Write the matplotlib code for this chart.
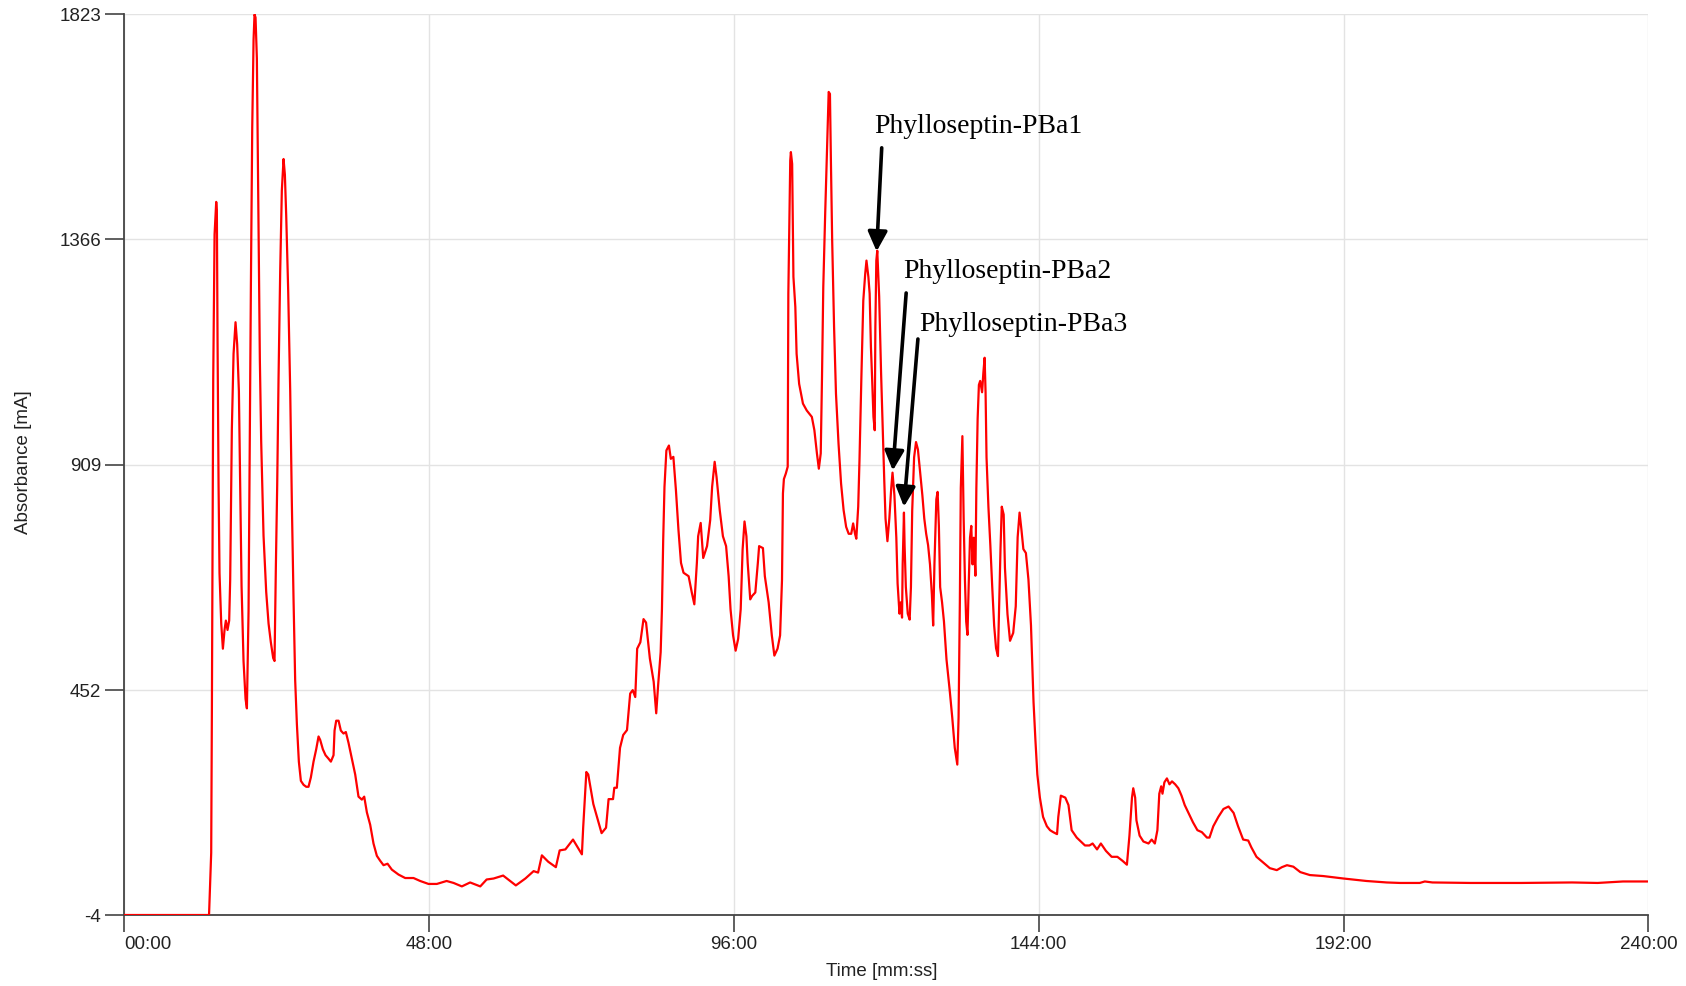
import matplotlib
matplotlib.use('Agg')
import matplotlib.pyplot as plt
import numpy as np

# chromatogram trace: time in minutes, absorbance in mA
time_min = [
    0, 13.4, 13.74, 13.85, 13.95, 14.06, 14.27, 14.53, 14.63, 14.74, 14.90, 15.05, 15.32, 15.58,
    15.84, 16.05, 16.31, 16.57, 16.73, 16.99, 17.26, 17.57, 17.83, 18.10, 18.31, 18.52, 18.83,
    19.15, 19.36, 19.62, 19.78, 19.99, 20.20, 20.41, 20.56, 20.72, 20.93, 21.09, 21.24, 21.40,
    21.61, 21.98, 22.40, 22.77, 23.13, 23.50, 23.71, 23.92, 24.13, 24.34, 24.60, 24.86, 25.13,
    25.34, 25.55, 25.86, 26.18, 26.44, 26.70, 26.96, 27.23, 27.54, 27.86, 28.28, 28.70, 29.06,
    29.43, 29.85, 30.27, 30.64, 30.90, 31.32, 31.74, 32.21, 32.58, 33.00, 33.16, 33.42, 33.79,
    34.15, 34.57, 34.94, 35.36, 35.88, 36.41, 36.93, 37.46, 37.83, 38.25, 38.77, 39.29, 39.82,
    40.34, 40.87, 41.50, 42.18, 43.23, 44.28, 45.59, 46.64, 47.95, 49.26,
    50.8, 51.9, 53.2, 54.5, 56.1, 57.1, 58.2, 59.7, 61.7, 63.2, 64.5, 65.2, 65.8, 66.8, 68.0,
    68.6, 69.5, 70.7, 72.1, 72.3, 72.8, 73.1, 73.9, 75.2, 75.9, 76.3, 77.0, 77.2, 77.6, 78.1,
    78.6, 79.2, 79.7, 80.1, 80.5, 80.8, 81.3, 81.8, 82.2, 82.8, 83.4, 83.8, 84.1, 84.5, 84.7,
    84.9, 85.1, 85.4, 85.8, 86.1, 86.5, 86.9, 87.3, 87.7, 88.1, 88.9, 89.4, 89.8, 90.2, 90.4,
    90.8, 91.2, 91.8, 92.3, 92.6, 93.0, 93.3, 93.8, 94.3, 94.8, 95.2, 95.5, 95.9, 96.3, 96.7,
    97.1, 97.4, 97.7, 98.0, 98.2, 98.6, 98.9, 99.4, 99.8, 100.0, 100.6, 100.9, 101.5, 102.0,
    102.4, 102.9, 103.3, 103.6, 103.75, 103.9, 104.2, 104.5,
    104.6, 104.9, 105.0, 105.2, 105.3, 105.4, 105.7, 105.9, 106.3, 106.9, 107.5, 108.3, 108.7,
    109.1, 109.4, 109.7, 109.9, 110.1, 110.4, 110.8, 110.95, 111.15, 111.3, 111.5, 111.8, 112.1,
    112.5, 112.9, 113.3, 113.7, 114.1, 114.5, 114.8, 115.1, 115.3, 115.6, 115.8, 116.1, 116.4,
    116.7, 116.9, 117.2, 117.4, 117.6, 117.8, 118.0, 118.2, 118.3, 118.45,
    118.6, 118.9, 119.2, 119.5, 119.7, 119.9, 120.2, 120.5, 120.8, 121.0, 121.3, 121.6, 121.8,
    122.1, 122.3, 122.5, 122.6, 122.8, 122.9, 123.1, 123.4, 123.7, 123.9, 124.1, 124.4, 124.7,
    125.0, 125.3, 125.7, 126.0, 126.3, 126.6, 126.9, 127.2, 127.4, 127.6, 127.9, 128.1, 128.3,
    128.5, 128.8, 129.1, 129.5, 130.0, 130.4, 130.8, 131.2, 131.4, 131.6, 131.75, 132.0, 132.2,
    132.4, 132.6, 132.8, 133.0, 133.2, 133.4, 133.6, 133.8, 134.05, 134.2, 134.4, 134.6, 134.8,
    135.1, 135.3, 135.5, 135.65, 135.8, 136.1, 136.4, 136.7, 137.0, 137.3, 137.6, 137.8, 138.0,
    138.2, 138.5, 138.7, 139.1, 139.5, 140.0, 140.4, 140.7, 141.0, 141.3, 141.6, 142.0, 142.4,
    142.8, 143.0, 143.2, 143.5, 143.8, 144.2, 144.7, 145.3, 145.8, 146.3, 146.9, 147.1, 147.5,
    148.2, 148.7, 149.2, 150.0, 151.3, 152.0, 152.5, 153.2, 153.8, 154.6, 155.5, 156.4, 157.2,
    157.9, 158.3, 158.7, 158.9, 159.2, 159.4, 159.9, 160.5, 161.3, 161.8, 162.3, 162.7, 163.0,
    163.3, 163.5, 163.8, 164.2, 164.6, 165.0, 165.5, 166.0, 166.5, 167.0, 167.6, 168.3, 169.0,
    169.7, 170.5, 170.9, 171.5, 172.3, 173.1, 173.9, 174.7, 175.4, 176.2, 177.0, 177.5, 178.3,
    179.4, 180.4, 181.5, 182.3, 183.1, 184.1, 185.2, 186.7, 188.8, 192.0, 195.6, 198.8, 200.9,
    204.0, 204.8, 206.0, 212.0, 220.0, 228.0, 232.0, 236.0, 240.0,
]
absorbance = [
    -4, -4, 122, 415, 740, 1083, 1376, 1442, 1427, 1160, 867, 689, 587, 536,
    574, 593, 574, 593, 676, 981, 1134, 1198, 1153, 1058, 854, 663, 511,
    434, 415, 612, 905, 1274, 1593, 1771, 1822, 1816, 1733, 1529, 1338, 1122,
    956, 765, 651, 587, 549, 517, 511, 702, 867, 1083, 1300, 1465, 1529,
    1497, 1414, 1262, 1058, 829, 638, 472, 383, 307, 268, 260, 256, 256,
    275, 307, 332, 358, 351, 332, 320, 313, 307, 320, 370, 390, 390,
    370, 364, 367, 345, 313, 281, 236, 230, 236, 204, 179, 141, 116,
    106, 97, 100, 88, 78, 71, 71, 65, 59, 59,
    65, 61, 54, 62, 54, 68, 70, 76, 56, 70, 85, 82, 117, 104, 93,
    127, 129, 149, 119, 173, 286, 281, 221, 162, 173, 231, 231, 254, 254, 335,
    361, 371, 445, 452, 438, 536, 549, 596, 589, 516, 469, 405, 462, 529, 616,
    757, 864, 938, 948, 921, 925, 858, 777, 710, 690, 683, 650, 626, 710, 764,
    791, 720, 744, 797, 864, 915, 884, 817, 764, 744, 683, 616, 563, 532, 556,
    616, 737, 794, 764, 710, 636, 643, 650, 710, 744, 740, 683, 630, 563,
    522, 536, 563, 675, 851, 880, 891, 905,
    1256, 1526, 1543, 1519, 1404, 1290, 1229, 1134, 1073, 1033, 1019, 1006, 979,
    932, 901, 932, 1087, 1269, 1418, 1594, 1665, 1661, 1526, 1364, 1188, 1053,
    952, 871, 817, 783, 769, 769, 790, 769, 759, 824, 918, 1087, 1242,
    1296, 1323, 1290, 1256, 1148, 1080, 1006, 979, 1188, 1323,
    1343, 1250, 1095, 963, 878, 800, 754, 800, 862, 893, 847, 761, 668,
    607, 630, 599, 707, 812, 746, 661, 607, 595, 661, 816, 924, 955,
    940, 901, 847, 800, 769, 746, 707, 645, 583, 707, 839, 854, 785,
    661, 630, 591, 514, 452, 397, 335, 301, 397, 630, 862, 967, 800,
    676, 591, 564, 668, 761, 785, 707, 761, 684, 862, 1002, 1071, 1079,
    1056, 1095, 1126, 1056, 924, 823, 746, 661, 583, 537, 521, 630, 738,
    824, 808, 700, 606, 552, 568, 622, 762, 812, 777, 738, 730, 676,
    583, 506, 428, 350, 281, 234, 195, 176, 168, 164, 160, 195, 238,
    234, 219, 168, 153, 137, 137, 141, 129, 141, 126, 114, 114, 106,
    98, 157, 234, 253, 234, 188, 157, 145, 141, 149, 141, 168, 242,
    257, 242, 265, 273, 261, 267, 261, 253, 238, 219, 203, 184, 168,
    164, 153, 153, 176, 195, 211, 216, 203, 176, 149, 147, 133, 114,
    102, 91, 87, 93, 97, 94, 83, 77, 75, 70, 65, 62, 61,
    61, 64, 62, 61, 61, 62, 61, 64, 64,
]

y_ticks = [-4, 452, 909, 1366, 1823]
x_ticks = [0, 48, 96, 144, 192, 240]
x_tick_labels = ['00:00', '48:00', '96:00', '144:00', '192:00', '240:00']

peak_names = ['Phylloseptin-PBa1', 'Phylloseptin-PBa2', 'Phylloseptin-PBa3']
peak_times = [118.5, 121.05, 122.8]

fig = plt.figure(figsize=(16.86, 9.86), dpi=100)
ax = fig.add_axes([0.0735, 0.072, 0.9042, 0.9138])

ax.plot(time_min, absorbance, color='#ff0000', lw=1.6, zorder=3)

ax.set_xlim(0, 240)
ax.set_ylim(-4, 1823)
ax.set_xticks(x_ticks)
ax.set_xticklabels(x_tick_labels)
ax.set_yticks(y_ticks)
ax.set_yticklabels([str(v) for v in y_ticks])
ax.get_xticklabels()[0].set_horizontalalignment('left')

ax.grid(True, color='#e3e3e3', lw=1.0, zorder=0)
for s in ['top', 'right']:
    ax.spines[s].set_visible(False)
for s in ['left', 'bottom']:
    ax.spines[s].set_color('#444444')
    ax.spines[s].set_linewidth(1.3)

ax.tick_params(axis='y', length=13.5, width=1.2, color='#444444', pad=3,
               labelsize=13.5, labelcolor='#222222', labelfontfamily='Liberation Sans')
ax.tick_params(axis='x', length=12, width=1.2, color='#444444', pad=3,
               labelsize=13.5, labelcolor='#222222', labelfontfamily='Liberation Sans')

fig.text(24 / 1686, 0.531, 'Absorbance [mA]', rotation=90, ha='center', va='center',
         fontsize=13.5, color='#222222', family='Liberation Sans')
fig.text(0.523, 0.0145, 'Time [mm:ss]', ha='center', va='center',
         fontsize=13.5, color='#222222', family='Liberation Sans')

# arrows point at the peaks, labels sit above and to the right
arrow_from = [(0.8, 210), (2.1, 360), (2.2, 340)]
label_at = [(-0.4, 240), (1.65, 390), (2.4, 356)]
for name, t, (dx, dy), (lx, ly) in zip(peak_names, peak_times, arrow_from, label_at):
    tip_v = np.interp(t, time_min, absorbance) + 12
    ax.annotate('', xy=(t, tip_v), xytext=(t + dx, tip_v + dy),
                arrowprops=dict(arrowstyle='-|>,head_length=0.85,head_width=0.42',
                                mutation_scale=14, lw=2.6, color='black',
                                shrinkA=0, shrinkB=0), zorder=5)
    ax.text(t + lx, tip_v + ly, name, fontsize=20, family='Liberation Serif',
            ha='left', va='baseline', color='black', zorder=5)

fig.savefig('out.png', dpi=100)
